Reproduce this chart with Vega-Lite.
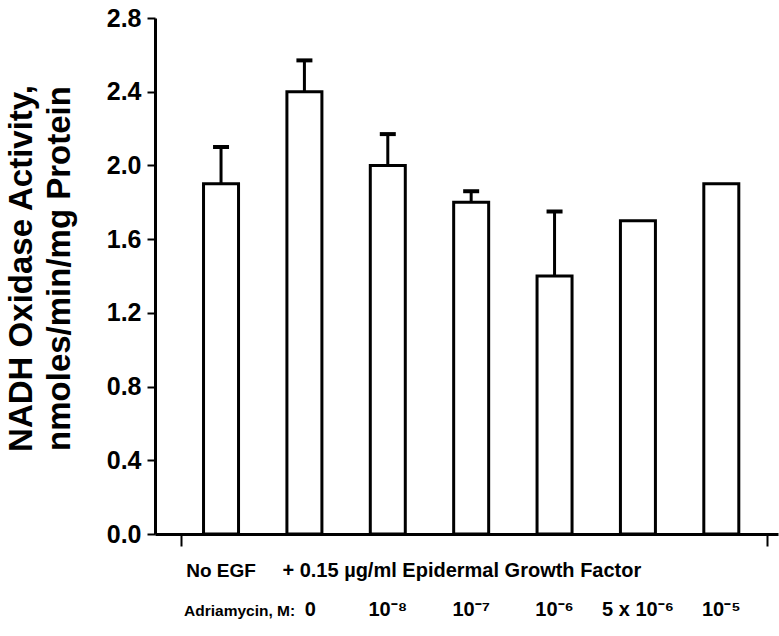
{
  "$schema": "https://vega.github.io/schema/vega-lite/v6.json",
  "autosize": {"type": "none"},
  "padding": {"left": 155, "top": 18, "right": 1, "bottom": 102},
  "width": 623,
  "height": 516,
  "background": "white",
  "config": {"view": {"stroke": null}, "font": "Liberation Sans"},
  "datasets": {
    "bars": [
      {"pos": 1, "condition": "No EGF", "adriamycin": "none", "activity": 1.9, "upper": 2.1},
      {"pos": 2, "condition": "EGF", "adriamycin": "0", "activity": 2.4, "upper": 2.57},
      {"pos": 3, "condition": "EGF", "adriamycin": "1e-8", "activity": 2.0, "upper": 2.17},
      {"pos": 4, "condition": "EGF", "adriamycin": "1e-7", "activity": 1.8, "upper": 1.86},
      {"pos": 5, "condition": "EGF", "adriamycin": "1e-6", "activity": 1.4, "upper": 1.75},
      {"pos": 6, "condition": "EGF", "adriamycin": "5e-6", "activity": 1.7, "upper": null},
      {"pos": 7, "condition": "EGF", "adriamycin": "1e-5", "activity": 1.9, "upper": null}
    ],
    "treatment": [
      {"text": "No EGF", "pos": 1},
      {"text": "+ 0.15 µg/ml Epidermal Growth Factor", "pos": 2}
    ],
    "header": [
      {"text": "Adriamycin, M:", "pos": 1}
    ],
    "doses": [
      {"text": "0", "pos": 2},
      {"text": "10⁻⁸", "pos": 3},
      {"text": "10⁻⁷", "pos": 4},
      {"text": "10⁻⁶", "pos": 5},
      {"text": "5 x 10⁻⁶", "pos": 6},
      {"text": "10⁻⁵", "pos": 7}
    ]
  },
  "encoding": {
    "x": {
      "field": "pos",
      "type": "quantitative",
      "scale": {"domain": [0.268, 7.62], "nice": false, "zero": false},
      "axis": {
        "values": [0.52, 7.55],
        "labels": false,
        "title": null,
        "grid": false,
        "tickSize": 12,
        "tickWidth": 2,
        "tickColor": "black",
        "domainWidth": 3,
        "domainColor": "black"
      }
    }
  },
  "layer": [
    {
      "data": {"name": "bars"},
      "mark": {"type": "bar", "width": 35, "fill": "white", "stroke": "black", "strokeWidth": 3},
      "encoding": {
        "y": {
          "field": "activity",
          "type": "quantitative",
          "scale": {"domain": [0, 2.8], "nice": false},
          "axis": {
            "values": [0, 0.4, 0.8, 1.2, 1.6, 2.0, 2.4, 2.8],
            "format": ".1f",
            "grid": false,
            "labelFontSize": 25,
            "labelFontWeight": "bold",
            "labelColor": "black",
            "labelPadding": 6,
            "tickSize": 8,
            "tickWidth": 2,
            "tickColor": "black",
            "domainWidth": 3,
            "domainColor": "black",
            "title": ["NADH Oxidase Activity,", "nmoles/min/mg Protein"],
            "titleFontSize": 33,
            "titleFontWeight": "bold",
            "titleColor": "black",
            "titleLineHeight": 38,
            "titlePadding": 30,
            "titleY": 250
          }
        }
      }
    },
    {
      "data": {"name": "bars"},
      "transform": [{"filter": "datum.upper != null"}],
      "mark": {"type": "rule", "color": "black", "strokeWidth": 3},
      "encoding": {
        "y": {"field": "activity", "type": "quantitative"},
        "y2": {"field": "upper"}
      }
    },
    {
      "data": {"name": "bars"},
      "transform": [{"filter": "datum.upper != null"}],
      "mark": {"type": "tick", "orient": "horizontal", "color": "black", "size": 16, "thickness": 4, "opacity": 1},
      "encoding": {
        "y": {"field": "upper", "type": "quantitative"}
      }
    },
    {
      "data": {"name": "treatment"},
      "transform": [{"filter": "datum.pos == 1"}],
      "mark": {"type": "text", "align": "center", "baseline": "alphabetic", "fontSize": 19, "fontWeight": "bold", "color": "black"},
      "encoding": {
        "y": {"datum": -0.232, "type": "quantitative"},
        "text": {"field": "text"}
      }
    },
    {
      "data": {"name": "treatment"},
      "transform": [{"filter": "datum.pos == 2"}],
      "mark": {"type": "text", "align": "left", "dx": -22, "baseline": "alphabetic", "fontSize": 20, "fontWeight": "bold", "color": "black"},
      "encoding": {
        "y": {"datum": -0.232, "type": "quantitative"},
        "text": {"field": "text"}
      }
    },
    {
      "data": {"name": "header"},
      "mark": {"type": "text", "align": "left", "dx": -37, "baseline": "alphabetic", "fontSize": 15.5, "fontWeight": "bold", "color": "black"},
      "encoding": {
        "y": {"datum": -0.445, "type": "quantitative"},
        "text": {"field": "text"}
      }
    },
    {
      "data": {"name": "doses"},
      "transform": [{"filter": "datum.pos == 2"}],
      "mark": {"type": "text", "align": "center", "dx": 6, "baseline": "alphabetic", "fontSize": 20, "fontWeight": "bold", "color": "black"},
      "encoding": {
        "y": {"datum": -0.445, "type": "quantitative"},
        "text": {"field": "text"}
      }
    },
    {
      "data": {"name": "doses"},
      "transform": [{"filter": "datum.pos != 2"}],
      "mark": {"type": "text", "align": "center", "baseline": "alphabetic", "fontSize": 20, "fontWeight": "bold", "color": "black"},
      "encoding": {
        "y": {"datum": -0.445, "type": "quantitative"},
        "text": {"field": "text"}
      }
    }
  ]
}
